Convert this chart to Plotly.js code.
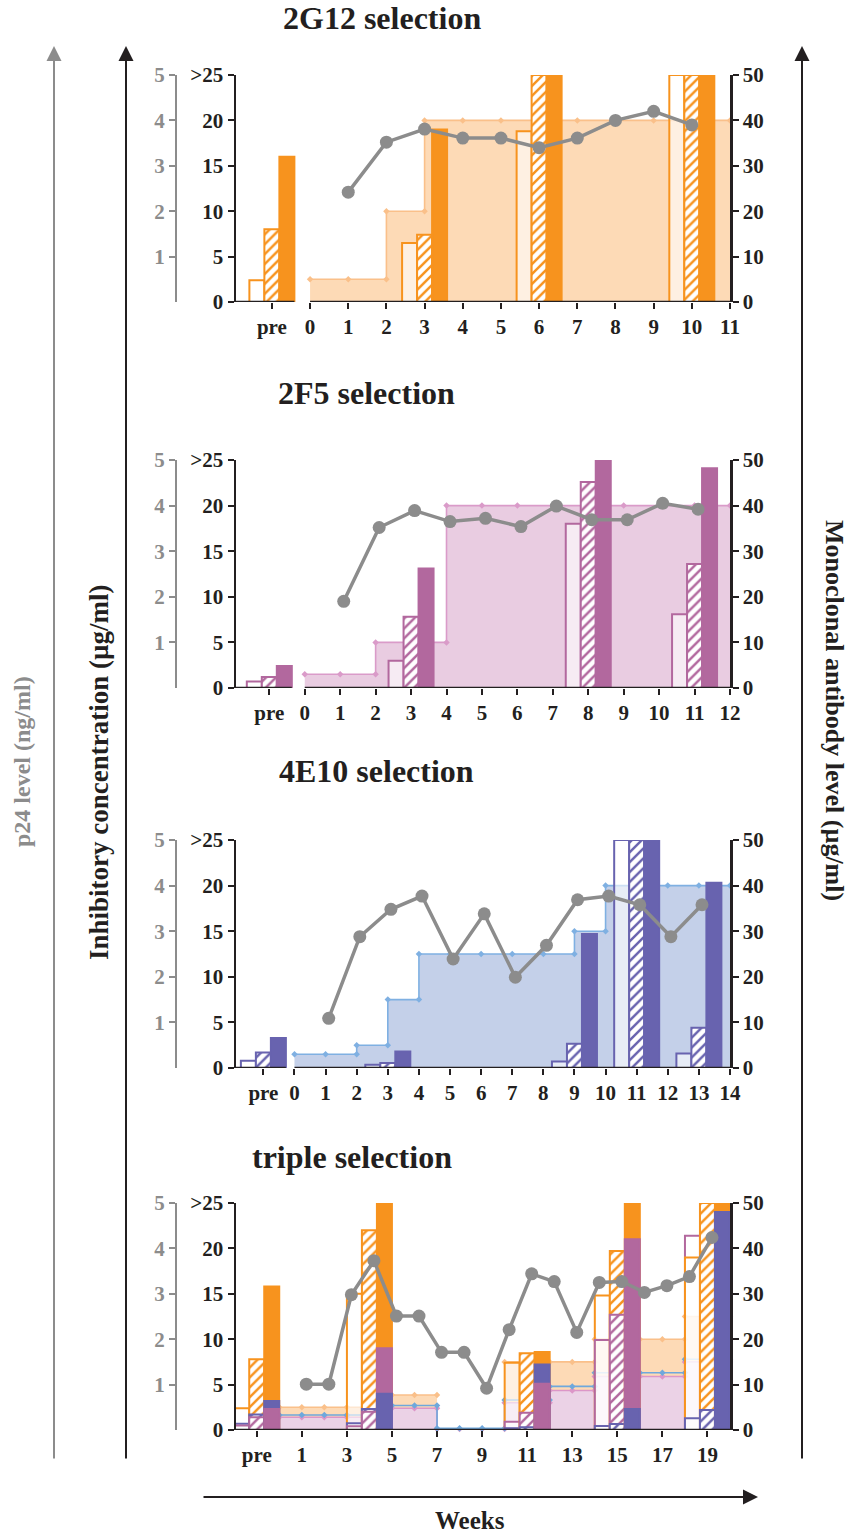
<!DOCTYPE html>
<html><head><meta charset="utf-8">
<script src="https://cdn.plot.ly/plotly-3.0.1.min.js"></script>
<style>html,body{margin:0;padding:0;background:#fff}#chart{width:848px;height:1537px}</style>
</head><body><div id="chart"></div>
<script>
// ================= DATA =================
// ---- Panel 1: 2G12 selection ----
const p1Ticks = [-1,0,1,2,3,4,5,6,7,8,9,10,11];
const p1TickText = ['pre','0','1','2','3','4','5','6','7','8','9','10','11'];
const p1AbWeeks = [0,1,2,3,4,5,6,7,8,9,10,11];
const p1AbLevel = [5,5,20,40,40,40,40,40,40,40,40,40];          // µg/ml (right axis)
const p1P24Weeks = [1,2,3,4,5,6,7,8,9,10];
const p1P24 = [2.42,3.52,3.81,3.61,3.61,3.40,3.61,4.00,4.20,3.90]; // ng/ml
const p1IcWeeks = [-1,3,6,10];
const p1IcOpen  = [2.4,6.5,18.8,25];
const p1IcHatch = [8.0,7.4,25,25];
const p1IcSolid = [16.0,19.0,25,25];

// ---- Panel 2: 2F5 selection ----
const p2Ticks = [-1,0,1,2,3,4,5,6,7,8,9,10,11,12];
const p2TickText = ['pre','0','1','2','3','4','5','6','7','8','9','10','11','12'];
const p2AbWeeks = [0,1,2,3,4,5,6,7,8,9,10,11,12];
const p2AbLevel = [3,3,10,10,40,40,40,40,40,40,40,40,40];
const p2P24Weeks = [1.1,2.1,3.1,4.1,5.1,6.1,7.1,8.1,9.1,10.1,11.1];
const p2P24 = [1.90,3.52,3.89,3.65,3.72,3.54,3.99,3.69,3.69,4.05,3.92];
const p2IcWeeks = [-1,3,8,11];
const p2IcOpen  = [0.7,3.0,18.0,8.1];
const p2IcHatch = [1.2,7.8,22.6,13.6];
const p2IcSolid = [2.4,13.1,25,24.1];

// ---- Panel 3: 4E10 selection ----
const p3Ticks = [-1,0,1,2,3,4,5,6,7,8,9,10,11,12,13,14];
const p3TickText = ['pre','0','1','2','3','4','5','6','7','8','9','10','11','12','13','14'];
const p3AbWeeks = [0,1,2,3,4,5,6,7,8,9,10,11,12,13,14];
const p3AbLevel = [3,3,5,15,25,25,25,25,25,30,40,40,40,40,40];
const p3P24Weeks = [1.1,2.1,3.1,4.1,5.1,6.1,7.1,8.1,9.1,10.1,11.1,12.1,13.1];
const p3P24 = [1.09,2.88,3.48,3.77,2.39,3.38,1.99,2.69,3.69,3.77,3.58,2.88,3.58];
const p3IcWeeks = [-1,3,9,11,13];
const p3IcOpen  = [0.8,0.35,0.7,25,1.6];
const p3IcHatch = [1.7,0.55,2.65,25,4.4];
const p3IcSolid = [3.3,1.8,14.7,25,20.3];

// ---- Panel 4: triple selection ----
const p4Ticks = [-1,1,3,5,7,9,11,13,15,17,19];
const p4TickText = ['pre','1','3','5','7','9','11','13','15','17','19'];
const p4AbWeeks = [0,1,2,3,4,5,6,7,8,9,10,11,12,13,14,15,16,17,18,19,20];
const p4Ab2G12 = [5,5,5,5,7.7,7.7,7.7,null,null,null,15,15,15,15,20,20,20,20,25,25,25];
const p4Ab2F5  = [2.8,2.8,2.8,2.8,4.8,4.8,4.8,0.2,0.2,0.2,6.0,6.0,8.7,8.7,11.8,11.8,11.8,11.8,15,15,15];
const p4Ab4E10 = [3.3,3.3,3.3,3.3,5.4,5.4,5.4,0.4,0.4,0.4,6.6,6.6,9.6,9.6,12.6,12.6,12.6,12.6,15.6,15.6,15.6];
const p4P24Weeks = [1.2,2.2,3.2,4.2,5.2,6.2,7.2,8.2,9.2,10.2,11.2,12.2,13.2,14.2,15.2,16.2,17.2,18.2,19.2];
const p4P24 = [1.01,1.01,2.98,3.73,2.51,2.51,1.71,1.71,0.92,2.21,3.44,3.27,2.15,3.25,3.27,3.03,3.18,3.38,4.24];
const p4IcWeeks = [-1,4,11,15,19];
const p4Open2G12  = [2.4,15.0,7.4,14.8,19.0];
const p4Hatch2G12 = [7.8,22.0,8.45,19.7,25];
const p4Solid2G12 = [15.8,25,8.6,25,25];
const p4Open2F5   = [0.5,0.4,0.9,9.9,21.4];
const p4Hatch2F5  = [1.4,2.0,1.9,12.7,null];
const p4Solid2F5  = [2.3,9.0,5.1,21.0,null];
const p4Open4E10  = [0.7,0.75,0.2,0.45,1.3];
const p4Hatch4E10 = [1.7,2.3,0.3,0.65,2.2];
const p4Solid4E10 = [3.2,4.0,7.2,2.3,24.0];

const panelTitles = ['2G12 selection','2F5 selection','4E10 selection','triple selection'];

// ================= STYLE / LAYOUT =================
const W = 848, H = 1537;
const FONT = 'Liberation Serif, "Times New Roman", serif';
const INK = '#231f20';
const GREY = '#8c8c8c';
const XPX = [236, 730];
const XDOM = [XPX[0]/W, XPX[1]/W];
const COL = {
  orange: {solid:'#F7931E', fill:'#FDDAB6', line:'#FAC08A'},
  purple: {solid:'#B2689E', fill:'#E9CCE1', line:'#DA9BC9'},
  blue:   {solid:'#6863AF', fill:'#C4D0E9', line:'#7FB0E2'}
};
const panels = [
  {top:75,  bottom:302,  xmin:-1.94, xmax:11, gap:true,  titleX:382, titleY:18},
  {top:460, bottom:688,  xmin:-1.94, xmax:12, gap:true,  titleX:366, titleY:393},
  {top:840, bottom:1068, xmin:-1.88, xmax:14, gap:true,  titleX:376, titleY:771},
  {top:1203,bottom:1430, xmin:-1.92, xmax:20, gap:false, titleX:352, titleY:1157}
];
const BARPX = 15;

function axKey(id){ return id[0] + 'axis' + (id.length > 1 ? id.slice(1) : ''); }
function stepSegments(weeks, vals){
  const segs=[]; let cur={x:[],y:[]};
  for (let i=0;i<weeks.length;i++){
    const prev = i>0 ? vals[i-1] : null;
    if (i>0 && prev!=null && vals[i]!==prev){ cur.x.push(weeks[i]); cur.y.push(prev); }
    if (vals[i]==null){ if (cur.x.length){ segs.push(cur); cur={x:[],y:[]}; } }
    else { cur.x.push(weeks[i]); cur.y.push(vals[i]); }
  }
  if (cur.x.length) segs.push(cur);
  return segs;
}

const traces = [];
const layout = {
  width: W, height: H, margin:{l:0,r:0,t:0,b:0},
  paper_bgcolor:'#ffffff', plot_bgcolor:'rgba(0,0,0,0)',
  showlegend:false, barmode:'overlay', hovermode:false,
  font:{family:FONT, color:INK},
  annotations:[], shapes:[]
};
const tf = (c, s) => ({family:FONT, size:s||21, color:c||INK, weight:'bold'});

const ids = panels.map((p,i)=>({
  x: i===0 ? 'x' : 'x'+(i+1),
  yA: i===0 ? 'y' : 'y'+(3*i+1),
  yB: 'y'+(3*i+2),
  yC: 'y'+(3*i+3)
}));
const tickSets = [[p1Ticks,p1TickText],[p2Ticks,p2TickText],[p3Ticks,p3TickText],[p4Ticks,p4TickText]];

panels.forEach((p,i)=>{
  const id = ids[i];
  const ydom = [1-p.bottom/H, 1-p.top/H];
  layout[axKey(id.x)] = {
    domain: XDOM, range:[p.xmin,p.xmax], anchor:id.yA,
    tickvals: tickSets[i][0], ticktext: tickSets[i][1],
    ticks:'outside', ticklen:6, tickwidth:2, tickcolor:INK,
    showline:false, showgrid:false, zeroline:false, tickfont:tf(), fixedrange:true
  };
  layout[axKey(id.yA)] = {
    domain: ydom, range:[0,50], anchor:id.x, side:'right',
    tickvals:[0,10,20,30,40,50], ticks:'outside', ticklen:6, tickwidth:2, tickcolor:INK,
    showline:true, linewidth:2.5, linecolor:INK, showgrid:false, zeroline:false, tickfont:tf()
  };
  layout[axKey(id.yB)] = {
    overlaying:id.yA, range:[0,25], anchor:id.x, side:'left',
    tickvals:[0,5,10,15,20,25], ticktext:['0','5','10','15','20','>25'],
    ticks:'outside', ticklen:6, tickwidth:2, tickcolor:INK,
    showline:true, linewidth:2.5, linecolor:INK, showgrid:false, zeroline:false, tickfont:tf()
  };
  layout[axKey(id.yC)] = {
    overlaying:id.yA, range:[0,5], anchor:'free', position:176/W, side:'left',
    tickvals:[1,2,3,4,5], ticks:'outside', ticklen:6, tickwidth:2, tickcolor:GREY,
    showline:true, linewidth:2, linecolor:GREY, showgrid:false, zeroline:false, tickfont:tf(GREY)
  };
  const bw = BARPX / ((XPX[1]-XPX[0])/(p.xmax-p.xmin));
  p.bw = bw;
  const segs = p.gap ? [[p.xmin, -1+1.5*bw],[0, p.xmax]] : [[p.xmin,p.xmax]];
  segs.forEach(s=>layout.shapes.push({type:'line', xref:id.x, yref:id.yB, x0:s[0], x1:s[1], y0:0, y1:0,
    line:{color:INK, width:2.5}, layer:'above'}));
  layout.annotations.push({xref:'paper', yref:'paper', x:p.titleX/W, y:1-p.titleY/H, xanchor:'center', yanchor:'middle',
    text:panelTitles[i], showarrow:false, font:tf(INK,32)});
});

function areaTraces(id, weeks, vals, c, filled){
  return stepSegments(weeks, vals).map(s=>{
    const t = {type:'scatter', x:s.x, y:s.y, xaxis:id.x, yaxis:id.yA, mode:'lines+markers',
      line:{color:c.line, width:1.6}, marker:{symbol:'diamond', size:5, color:c.line},
      cliponaxis:false, hoverinfo:'skip'};
    if (filled){ t.fill='tozeroy'; t.fillcolor=c.fill; }
    return t;
  });
}
function p24Trace(id, weeks, vals){
  return {type:'scatter', x:weeks, y:vals, xaxis:id.x, yaxis:id.yC, mode:'lines+markers',
    line:{color:GREY, width:3.5}, marker:{size:13, color:GREY}, cliponaxis:false, hoverinfo:'skip'};
}
function barTrace(id, weeks, vals, colors, kind, bw){
  const off = kind==='open' ? -1.5*bw : (kind==='hatch' ? -0.5*bw : 0.5*bw);
  const m = {line:{color:colors, width:2}};
  if (kind==='open') m.color = 'rgba(255,255,255,0.6)';
  else if (kind==='hatch'){ m.color = '#ffffff'; m.pattern = {shape:'/', fgcolor:colors, bgcolor:'#ffffff', size:7, solidity:0.35}; }
  else m.color = colors;
  return {type:'bar', x:weeks, y:vals, xaxis:id.x, yaxis:id.yB, width:bw, offset:off, marker:m, hoverinfo:'skip'};
}

const singles = [
  {ab:[p1AbWeeks,p1AbLevel], p24:[p1P24Weeks,p1P24], ic:[p1IcWeeks,p1IcOpen,p1IcHatch,p1IcSolid], c:COL.orange},
  {ab:[p2AbWeeks,p2AbLevel], p24:[p2P24Weeks,p2P24], ic:[p2IcWeeks,p2IcOpen,p2IcHatch,p2IcSolid], c:COL.purple},
  {ab:[p3AbWeeks,p3AbLevel], p24:[p3P24Weeks,p3P24], ic:[p3IcWeeks,p3IcOpen,p3IcHatch,p3IcSolid], c:COL.blue}
];
singles.forEach((s,i)=>{
  const id = ids[i], bw = panels[i].bw;
  traces.push(...areaTraces(id, s.ab[0], s.ab[1], s.c, true));
  traces.push(barTrace(id, s.ic[0], s.ic[1], s.c.solid, 'open', bw));
  traces.push(barTrace(id, s.ic[0], s.ic[2], s.c.solid, 'hatch', bw));
  traces.push(barTrace(id, s.ic[0], s.ic[3], s.c.solid, 'solid', bw));
  traces.push(p24Trace(id, s.p24[0], s.p24[1]));
});

(function(){
  const id = ids[3], bw = panels[3].bw;
  traces.push(...areaTraces(id, p4AbWeeks, p4Ab2G12, COL.orange, true));
  traces.push(...areaTraces(id, p4AbWeeks, p4Ab2F5, {fill:'#EBD2E6', line:'#DC96C8'}, true));
  traces.push(...areaTraces(id, p4AbWeeks, p4Ab4E10, {fill:'none', line:'#6FA8DC'}, false));
  const slots = [
    ['open',  [[p4Open2G12,COL.orange.solid],[p4Open2F5,COL.purple.solid],[p4Open4E10,COL.blue.solid]]],
    ['hatch', [[p4Hatch2G12,COL.orange.solid],[p4Hatch2F5,COL.purple.solid],[p4Hatch4E10,COL.blue.solid]]],
    ['solid', [[p4Solid2G12,COL.orange.solid],[p4Solid2F5,COL.purple.solid],[p4Solid4E10,COL.blue.solid]]]
  ];
  slots.forEach(([kind, series])=>{
    for (let r=0;r<3;r++){
      const xs=[], ys=[], cs=[];
      p4IcWeeks.forEach((w,j)=>{
        const e = series.map(s=>({v:s[0][j], c:s[1]})).filter(o=>o.v!=null).sort((a,b)=>b.v-a.v);
        if (e[r]){ xs.push(w); ys.push(e[r].v); cs.push(e[r].c); }
      });
      if (xs.length) traces.push(barTrace(id, xs, ys, cs, kind, bw));
    }
  });
  traces.push(p24Trace(id, p4P24Weeks, p4P24));
})();

function arrow(x, y, ax, ay, color){
  layout.annotations.push({xref:'paper', yref:'paper', x:x/W, y:1-y/H, ax:ax, ay:ay, text:'',
    showarrow:true, arrowhead:2, arrowsize:1.5, arrowwidth:2, arrowcolor:color, standoff:0});
}
arrow(54, 46, 0, 1414, GREY);
arrow(126, 46, 0, 1414, INK);
arrow(802, 46, 0, 1414, INK);
arrow(758, 1497, -556, 0, INK);
const lab = (x,y,text,angle,font)=>({xref:'paper', yref:'paper', x:x/W, y:1-y/H, xanchor:'center', yanchor:'middle',
  text:text, textangle:angle, showarrow:false, font:font});
layout.annotations.push(
  lab(22, 762, 'p24 level (ng/ml)', -90, tf(GREY,24)),
  lab(99, 772, 'Inhibitory concentration (µg/ml)', -90, tf(INK,27)),
  lab(835, 710, 'Monoclonal antibody level (µg/ml)', 90, tf(INK,26)),
  lab(470, 1520, 'Weeks', 0, tf(INK,25))
);

Plotly.newPlot('chart', traces, layout, {staticPlot:true});
</script>
</body></html>
